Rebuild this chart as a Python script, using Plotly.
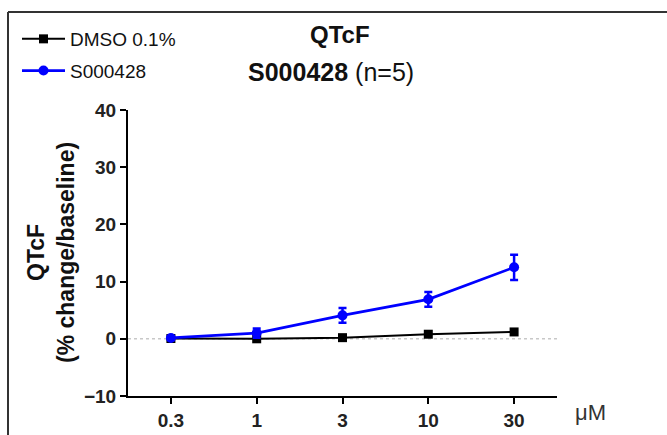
import plotly.graph_objects as go

# ---- data ----
doses = ["0.3", "1", "3", "10", "30"]
dmso_values = [0.05, 0.0, 0.2, 0.8, 1.2]
s000428_values = [0.15, 1.0, 4.1, 6.9, 12.5]
s000428_err = [0.3, 0.8, 1.3, 1.3, 2.2]
y_ticks = [-10, 0, 10, 20, 30, 40]

x_idx = list(range(len(doses)))

W, H = 667, 435
L, R, T, B = 128, 110, 110, 39
pw, ph = W - L - R, H - T - B

def px(x):
    return (x - L) / pw

def py(y):
    return (H - B - y) / ph

FONT = "Liberation Sans, Arial, sans-serif"

fig = go.Figure()
fig.add_trace(go.Scatter(
    x=x_idx, y=dmso_values, mode="lines+markers", name="DMSO 0.1%",
    line=dict(color="black", width=2),
    marker=dict(symbol="square", size=9, color="black"),
    legendgroup="a",
))
fig.add_trace(go.Scatter(
    x=x_idx, y=s000428_values, mode="lines+markers", name="S000428",
    line=dict(color="#0000ff", width=2.7),
    marker=dict(symbol="circle", size=10, color="#0000ff"),
    error_y=dict(type="data", array=s000428_err, color="#0000ff", thickness=2.5, width=4),
    legendgroup="b",
))

fig.update_layout(
    width=W, height=H,
    margin=dict(l=L, r=R, t=T, b=B, autoexpand=False),
    paper_bgcolor="white", plot_bgcolor="white",
    font=dict(family=FONT, color="#111"),
    showlegend=True,
    legend=dict(
        x=px(17), y=py(20), xanchor="left", yanchor="top",
        font=dict(size=19, color="#111", family=FONT),
        bgcolor="rgba(0,0,0,0)", tracegroupgap=4, itemwidth=43,
    ),
    xaxis=dict(
        range=[-0.5, 4.5], tickmode="array", tickvals=x_idx, ticktext=doses,
        showgrid=False, zeroline=False, showline=True, linecolor="black", linewidth=2,
        ticks="outside", ticklen=6, tickwidth=2, tickcolor="black",
        tickfont=dict(size=19, family=FONT, color="#222", weight="bold"),
    ),
    yaxis=dict(
        range=[-10, 40], tickmode="array", tickvals=y_ticks,
        showgrid=False, zeroline=False, showline=True, linecolor="black", linewidth=2,
        ticks="outside", ticklen=6, tickwidth=2, tickcolor="black",
        tickfont=dict(size=19, family=FONT, color="#222", weight="bold"),
    ),
    shapes=[
        dict(type="line", xref="paper", yref="y", x0=0, x1=1, y0=0, y1=0,
             line=dict(color="#c8c8c8", width=1.5, dash="dot"), layer="below"),
        dict(type="line", xref="paper", yref="paper", x0=px(8), x1=px(667), y0=py(12), y1=py(12),
             line=dict(color="#333", width=2)),
        dict(type="line", xref="paper", yref="paper", x0=px(8), x1=px(8), y0=py(12), y1=py(435),
             line=dict(color="#333", width=2)),
    ],
    annotations=[
        dict(text="<b>QTcF</b>", xref="paper", yref="paper", x=px(340), y=py(35),
             xanchor="center", yanchor="middle", showarrow=False,
             font=dict(size=24, family=FONT, color="#111")),
        dict(text="<b>S000428</b> (n=5)", xref="paper", yref="paper", x=px(331), y=py(72),
             xanchor="center", yanchor="middle", showarrow=False,
             font=dict(size=25, family=FONT, color="#111")),
        dict(text="<b>QTcF</b><br><b>(% change/baseline)</b>", xref="paper", yref="paper",
             x=px(51), y=py(253), xanchor="center", yanchor="middle", textangle=-90,
             showarrow=False, font=dict(size=23, family=FONT, color="#111")),
        dict(text="μM", xref="paper", yref="paper", x=px(590), y=py(412),
             xanchor="center", yanchor="middle", showarrow=False,
             font=dict(size=22, family=FONT, color="#333")),
    ],
)

fig.write_html("out.html", config={"displayModeBar": False},
               post_script="document.body.style.margin='0';")
